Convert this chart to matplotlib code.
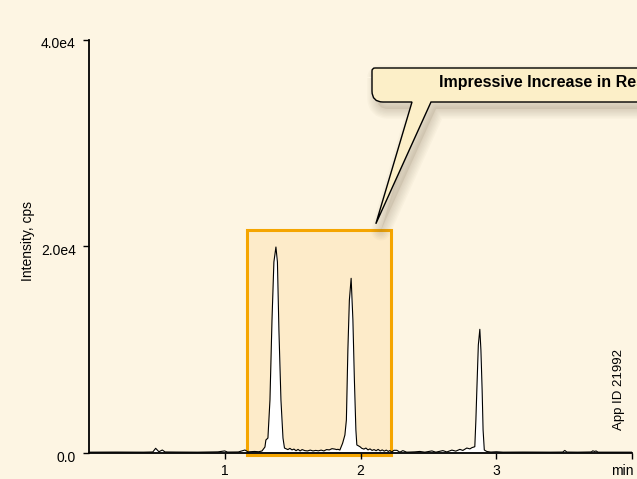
import matplotlib.pyplot as plt
import matplotlib.transforms as mtransforms
from matplotlib.path import Path
from matplotlib.patches import PathPatch, Rectangle

plt.rcParams['font.family'] = ['Liberation Sans', 'DejaVu Sans']

# chromatogram trace (retention time in min, intensity in cps)
time_min = [
    0.00, 0.20, 0.40, 0.47, 0.491, 0.515, 0.540, 0.56, 0.65, 0.80,
    0.95, 1.00, 1.02, 1.10, 1.149, 1.17, 1.22, 1.25, 1.274, 1.296,
    1.303, 1.318, 1.333, 1.348, 1.362, 1.377, 1.388, 1.399, 1.414, 1.429,
    1.440, 1.45, 1.465, 1.48, 1.495, 1.51, 1.525, 1.54, 1.555, 1.57,
    1.59, 1.61, 1.63, 1.65, 1.67, 1.69, 1.71, 1.73, 1.75, 1.77,
    1.79, 1.81, 1.825, 1.834, 1.848, 1.868, 1.885, 1.896, 1.907, 1.918,
    1.931, 1.944, 1.955, 1.966, 1.973, 1.996, 2.01, 2.025, 2.04, 2.055,
    2.07, 2.085, 2.10, 2.115, 2.13, 2.145, 2.16, 2.175, 2.19, 2.205,
    2.216, 2.23, 2.246, 2.268, 2.29, 2.312, 2.34, 2.40, 2.437, 2.474,
    2.526, 2.555, 2.607, 2.636, 2.673, 2.702, 2.732, 2.754, 2.783, 2.806,
    2.821, 2.842, 2.850, 2.857, 2.868, 2.879, 2.887, 2.896, 2.903, 2.912,
    2.93, 2.96, 3.00, 3.05, 3.20, 3.40, 3.49, 3.505, 3.52, 3.60,
    3.70, 3.711, 3.725, 3.735, 3.75, 3.90, 4.00,
]
intensity = [
    80, 90, 80, 100, 455, 120, 290, 100, 90, 80,
    110, 200, 90, 100, 290, 110, 150, 120, 194, 580,
    1260, 1450, 5130, 12880, 18500, 19950, 18500, 11910, 5130, 1450,
    480, 420, 330, 450, 300, 380, 220, 350, 200, 330,
    230, 200, 280, 200, 250, 210, 280, 200, 330, 300,
    420, 380, 330, 360, 290, 940, 1740, 3200, 9980, 14800,
    16920, 12900, 7070, 2230, 780, 610, 450, 380, 480, 300,
    400, 250, 330, 220, 350, 200, 300, 180, 280, 150,
    240, 90, 260, 260, 80, 230, 80, 110, 150, 80,
    200, 80, 230, 100, 280, 180, 350, 250, 480, 400,
    520, 610, 3200, 6100, 10460, 11980, 9980, 6100, 2230, 290,
    150, 90, 120, 80, 90, 80, 90, 250, 90, 80,
    100, 210, 150, 200, 80, 80, 80,
]

# highlighted retention window
box_start, box_end = 1.163, 2.224
box_low, box_high = -200, 21600

bg = '#fdf5e3'
W, H = 637, 479
fig = plt.figure(figsize=(W / 100, H / 100), dpi=100)
fig.patch.set_facecolor(bg)
ax = fig.add_axes([89 / W, 26 / H, 543 / W, 413 / H])
ax.set_facecolor(bg)
ax.set_xlim(0, 4)
ax.set_ylim(0, 40000)

ax.add_patch(Rectangle((box_start, box_low), box_end - box_start, box_high - box_low,
                       facecolor='#fdebc9', edgecolor='#f5a500', lw=2.2,
                       clip_on=False, zorder=1))

ax.fill_between(time_min, intensity, 0, color='white', lw=0, zorder=2)
ax.plot(time_min, intensity, color='black', lw=0.8, zorder=3)

for side in ['top', 'right']:
    ax.spines[side].set_visible(False)
for side in ['left', 'bottom']:
    ax.spines[side].set_linewidth(1.3)
    ax.spines[side].set_zorder(4)

ax.set_yticks([0, 20000, 40000])
ax.set_yticklabels(['0.0', '2.0e4', '4.0e4'])
ax.set_xticks([1, 2, 3, 4])
ax.set_xticklabels(['1', '2', '3', 'min'])
ax.tick_params(axis='y', length=4.5, width=1, pad=5, labelsize=10)
ax.tick_params(axis='x', length=4.5, width=1, pad=3.5, labelsize=10)
for lbl in ax.get_yticklabels():
    lbl.set_transform(lbl.get_transform() +
                      mtransforms.ScaledTranslation(0, -0.03, fig.dpi_scale_trans))
# "min" sits left of its tick so it stays inside the figure
min_lbl = ax.get_xticklabels()[-1]
min_lbl.set_transform(min_lbl.get_transform() +
                      mtransforms.ScaledTranslation(-0.10, 0, fig.dpi_scale_trans))

fig.text(28 / W, 1 - 241 / H, 'Intensity, cps', rotation=90, ha='center', va='center',
         fontsize=10)
fig.text(619 / W, 1 - 390 / H, 'App ID 21992', rotation=90, ha='center', va='center',
         fontsize=9.5)

# callout bubble, pixel coordinates measured from the top-left corner
tip_x, tip_y = ax.transData.transform((2.113, 22200))
tip = (tip_x, tip_y)


def px(x, y):
    return (x, H - y)


verts = [px(372, 71), px(372, 68), px(375, 68), px(680, 68), px(680, 102),
         px(431, 102), tip, px(412, 102), px(383, 102), px(372, 102),
         px(372, 91), px(372, 71)]
codes = [Path.MOVETO, Path.CURVE3, Path.CURVE3, Path.LINETO, Path.LINETO,
         Path.LINETO, Path.LINETO, Path.LINETO, Path.LINETO, Path.CURVE3,
         Path.CURVE3, Path.CLOSEPOLY]
bubble = Path(verts, codes)

# soft drop shadow
shift = mtransforms.Affine2D().translate(5, -7)
for i in range(7):
    fig.add_artist(PathPatch(bubble, transform=shift, facecolor='none',
                             edgecolor='#7a6a50', lw=14 - 2 * i, alpha=0.035,
                             joinstyle='round'))
fig.add_artist(PathPatch(bubble, transform=shift, facecolor='#7a6a50',
                         edgecolor='none', alpha=0.13))
fig.add_artist(PathPatch(bubble, transform=mtransforms.IdentityTransform(),
                         facecolor='#fcefc8', edgecolor='black', lw=1.0))

fig.text(439 / W, 1 - 83 / H, 'Impressive Increase in Resolution', ha='left',
         va='center', fontsize=11.5, fontweight='bold',
         family=['Liberation Sans Narrow', 'Liberation Sans', 'DejaVu Sans'])

fig.savefig('out.png', dpi=100, facecolor=bg)
